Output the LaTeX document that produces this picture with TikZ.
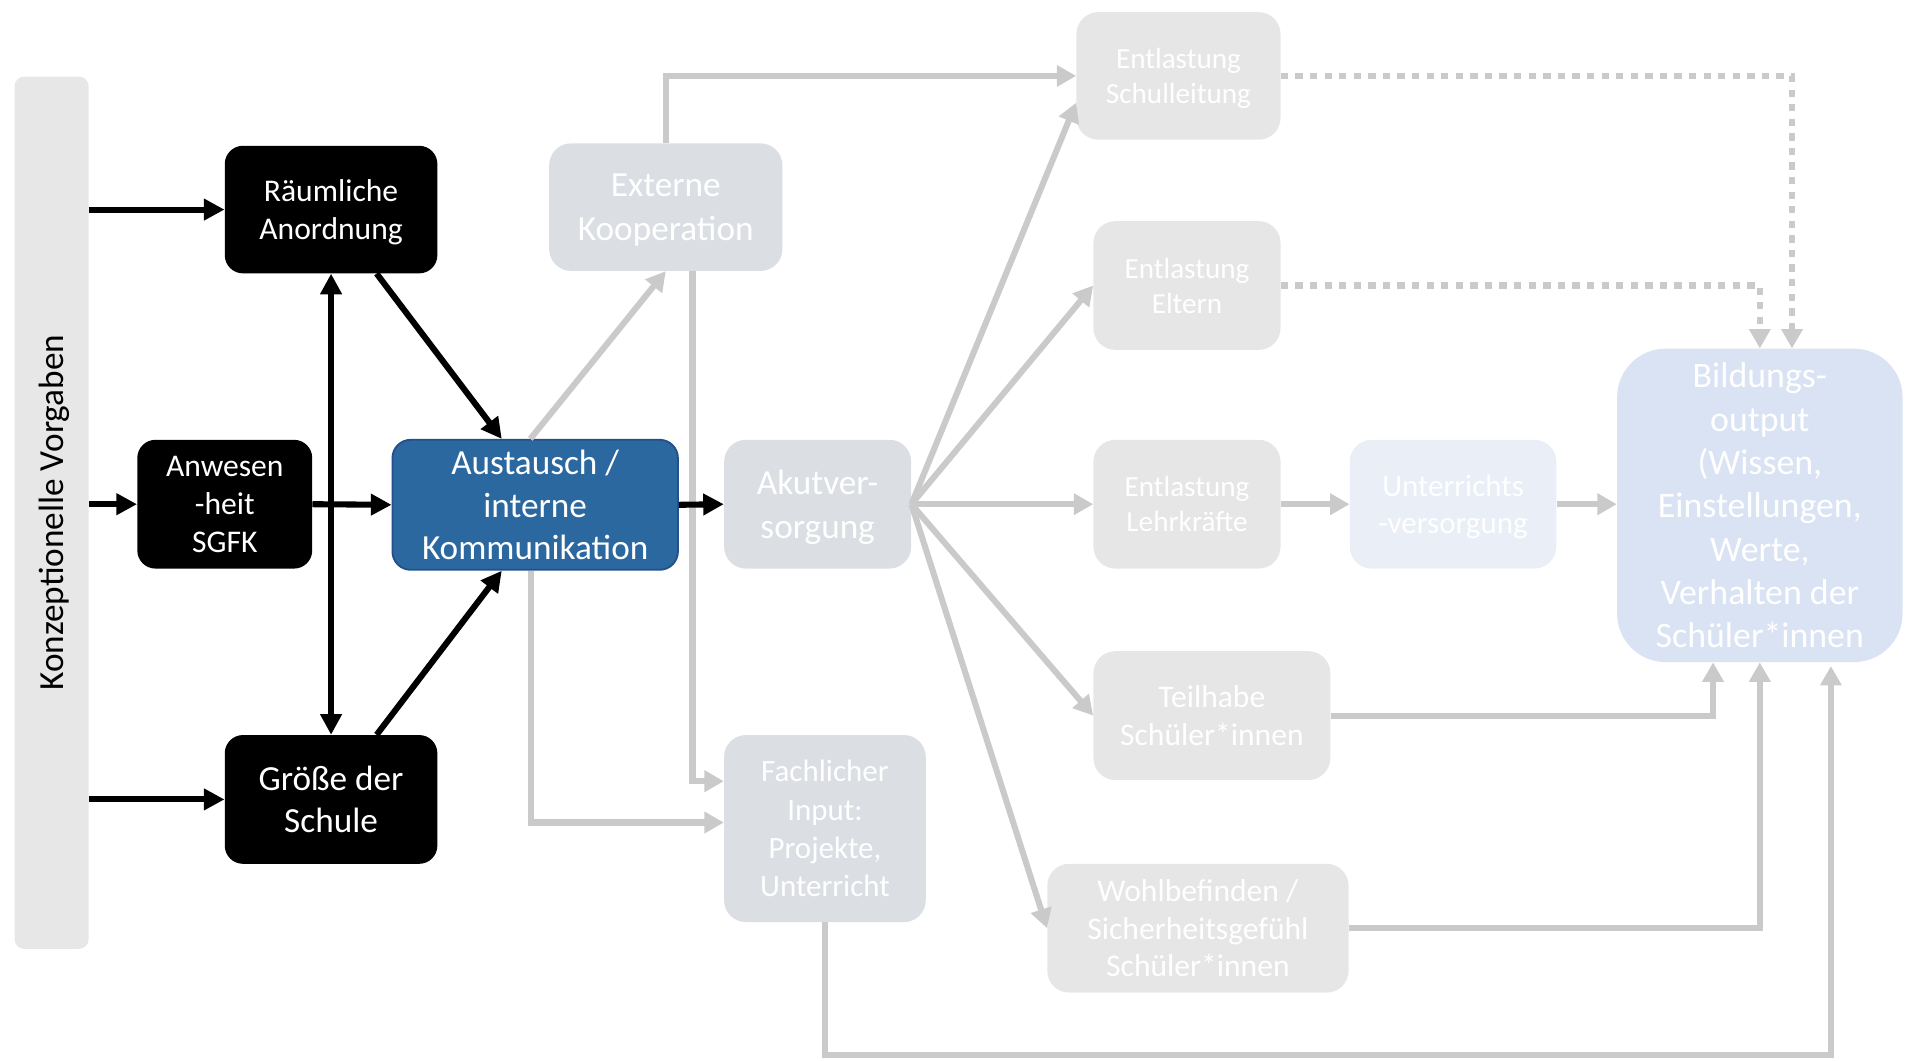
\documentclass[tikz,border=0pt]{standalone}
\usepackage{fontspec}
\setmainfont{Carlito}
\usetikzlibrary{arrows.meta,calc}

\definecolor{barfill}{HTML}{E7E7E7}
\definecolor{slate}{HTML}{DBDEE3}
\definecolor{pale}{HTML}{E6E6E6}
\definecolor{uvfill}{HTML}{E9EEF7}
\definecolor{bildfill}{HTML}{DAE3F3}
\definecolor{bluefill}{HTML}{2C68A0}
\definecolor{blueline}{HTML}{23508A}
\definecolor{conn}{HTML}{CACACA}

\begin{document}
\begin{tikzpicture}[x=1pt,y=-1pt,
  every node/.style={inner sep=0pt, align=center, text depth=0pt},
  darkbox/.style={fill=black, text=white, rounded corners=15pt},
  bluebox/.style={fill=bluefill, draw=blueline, line width=1.5pt, text=white, rounded corners=15pt},
  slatebox/.style={fill=slate, text=white, rounded corners=18pt},
  palebox/.style={fill=pale, text=white, rounded corners=18pt},
  uvbox/.style={fill=uvfill, text=white, rounded corners=18pt},
  bildbox/.style={fill=bildfill, text=white, rounded corners=40pt},
  blk/.style={draw=black, line width=5pt, -{Triangle[length=17pt,width=17pt]}},
  gry/.style={draw=conn, line width=5pt, -{Triangle[length=16pt,width=17pt]}},
  dots/.style={gry, line width=5.5pt, dash pattern=on 6pt off 6pt}
]
\useasboundingbox (0,0) rectangle (1568,873);

% side bar with the framework conditions
\node[fill=barfill, rounded corners=8pt, minimum width=61pt, minimum height=718pt] (bar) at (42.5,422) {};
\node[rotate=90, text=black, font=\fontsize{29}{35}\selectfont] (bartext) at (bar.center) {Konzeptionelle Vorgaben};

% structural factors
\node[darkbox, minimum width=175pt, minimum height=105pt, font=\fontsize{26}{31}\selectfont] (raum) at (272.5,172.5) {Räumliche\\Anordnung};
\node[darkbox, minimum width=144pt, minimum height=106pt, font=\fontsize{26}{31.5}\selectfont] (anw) at (185,415) {Anwesen\\-heit\\SGFK};
\node[darkbox, minimum width=175pt, minimum height=106pt, font=\fontsize{29}{35}\selectfont] (groe) at (272.5,658) {Größe der\\Schule};
\node[bluebox, minimum width=235pt, minimum height=107pt, font=\fontsize{29}{35}\selectfont] (aust) at (440.5,415.5) {Austausch /\\interne\\Kommunikation};

% processes
\node[slatebox, minimum width=192pt, minimum height=105pt, font=\fontsize{29}{36}\selectfont] (ext) at (548,170.5) {Externe\\Kooperation};
\node[slatebox, minimum width=154pt, minimum height=106pt, font=\fontsize{29}{36}\selectfont] (akut) at (673,415) {Akutver-\\sorgung};
\node[slatebox, minimum width=166pt, minimum height=154pt, font=\fontsize{25.5}{31.5}\selectfont] (fach) at (679,682) {Fachlicher\\Input:\\Projekte,\\Unterricht};

% effects
\node[palebox, minimum width=168pt, minimum height=105pt, font=\fontsize{24}{29}\selectfont] (esl) at (970,62.5) {Entlastung\\Schulleitung};
\node[palebox, minimum width=154pt, minimum height=106pt, font=\fontsize{24}{29}\selectfont] (eel) at (977,235) {Entlastung\\Eltern};
\node[palebox, minimum width=154pt, minimum height=106pt, font=\fontsize{24}{29}\selectfont] (elk) at (977,415) {Entlastung\\Lehrkräfte};
\node[uvbox, minimum width=170pt, minimum height=106pt, font=\fontsize{25.5}{31}\selectfont] (uv) at (1196,415) {Unterrichts\\-versorgung};
\node[palebox, minimum width=195pt, minimum height=106pt, font=\fontsize{26}{31}\selectfont] (teil) at (997.5,589) {Teilhabe\\Schüler*innen};
\node[palebox, minimum width=248pt, minimum height=106pt, font=\fontsize{26}{31}\selectfont] (wohl) at (986,764) {Wohlbefinden /\\Sicherheitsgefühl\\Schüler*innen};
\node[bildbox, minimum width=235pt, minimum height=258pt, font=\fontsize{29.5}{35.7}\selectfont] (bild) at (1448.5,416) {Bildungs-\\output\\(Wissen,\\Einstellungen,\\Werte,\\Verhalten der\\Schüler*innen};

% grey connectors
\draw[gry] ([xshift=-4pt]aust.north) -- (ext.south);
\draw[gry] (ext.north) |- (esl.west);
\draw[gry] ([xshift=22pt]ext.south) |- ([yshift=39pt]fach.west);
\draw[gry] ([xshift=-3.5pt]aust.south) |- ([yshift=5pt]fach.west);
\draw[gry] (akut.east) -- ([yshift=-22pt]esl.west);
\draw[gry] (akut.east) -- (eel.west);
\draw[gry] (akut.east) -- (elk.west);
\draw[gry] (akut.east) -- (teil.west);
\draw[gry] (akut.east) -- (wohl.west);
\draw[gry] (elk.east) -- (uv.west);
\draw[gry] (uv.east) -- (uv.east -| bild.west);
\draw[dots] (esl.east) -| ([xshift=26.5pt]bild.north);
\draw[dots] (eel.east) -| (bild.north);
\draw[gry] (teil.east) -| ([xshift=-38.5pt]bild.south);
\draw[gry] (wohl.east) -| (bild.south);
\coordinate (loopcorner) at (1507,868);
\draw[gry] (fach.south) |- (loopcorner) -- ([xshift=58.5pt,yshift=-3pt]bild.south);

% black connectors
\draw[blk] (bar.east |- raum.west) -- (raum.west);
\draw[blk] (bar.east |- anw.west) -- (anw.west);
\draw[blk] (bar.east |- groe.west) -- (groe.west);
\draw[blk, {Triangle[length=17pt,width=17pt]}-{Triangle[length=17pt,width=17pt]}] (raum.south) -- (groe.north);
\draw[blk] (anw.east) -- (aust.west);
\draw[blk] ([xshift=37.5pt]raum.south) -- ([xshift=-27.5pt]aust.north);
\draw[blk] ([xshift=37.5pt]groe.north) -- ([xshift=-27.5pt]aust.south);
\draw[blk] (aust.east) -- (akut.west);
\end{tikzpicture}
\end{document}
